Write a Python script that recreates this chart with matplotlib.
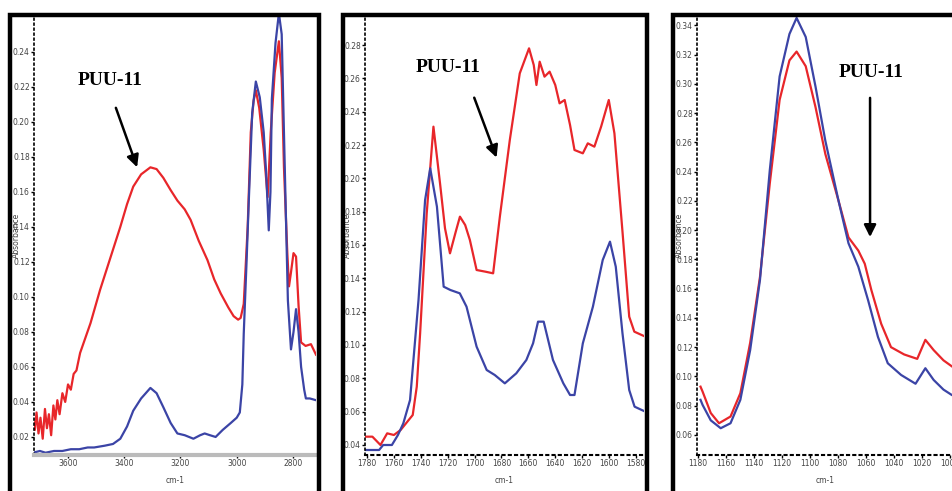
import numpy as np
import matplotlib.pyplot as plt
from matplotlib.patches import Rectangle

# panel 1: 3700-2700 cm-1
wn1_red = [3725, 3718, 3712, 3705, 3698, 3690, 3682, 3675, 3668, 3660, 3652, 3645, 3638,
           3630, 3620, 3610, 3600, 3590, 3580, 3570, 3557, 3520, 3486, 3450, 3414, 3390,
           3368, 3340, 3307, 3285, 3261, 3235, 3211, 3185, 3164, 3135, 3104, 3080, 3057,
           3030, 3011, 2995, 2986, 2975, 2961, 2950, 2940, 2932, 2920, 2904, 2890, 2879,
           2865, 2850, 2840, 2832, 2820, 2814, 2807, 2798, 2789, 2780, 2771, 2755, 2736,
           2718]
a1_red = [0.030, 0.024, 0.034, 0.022, 0.031, 0.019, 0.036, 0.025, 0.033, 0.021, 0.038,
          0.030, 0.041, 0.033, 0.045, 0.040, 0.050, 0.047, 0.056, 0.058, 0.068, 0.085,
          0.104, 0.122, 0.140, 0.153, 0.163, 0.170, 0.174, 0.173, 0.168, 0.161, 0.155,
          0.150, 0.144, 0.132, 0.121, 0.110, 0.102, 0.094, 0.089, 0.087, 0.088, 0.096,
          0.140, 0.194, 0.212, 0.218, 0.208, 0.184, 0.157, 0.194, 0.228, 0.246, 0.225,
          0.174, 0.125, 0.106, 0.114, 0.125, 0.123, 0.095, 0.074, 0.072, 0.073, 0.067]

wn1_blue = [3725, 3700, 3680, 3650, 3620, 3590, 3560, 3530, 3507, 3470, 3440, 3414,
            3390, 3368, 3340, 3307, 3285, 3261, 3235, 3211, 3185, 3154, 3130, 3114,
            3095, 3075, 3050, 3021, 3000, 2989, 2980, 2975, 2965, 2957, 2945, 2932,
            2918, 2904, 2895, 2886, 2880, 2875, 2862, 2850, 2840, 2832, 2818, 2807,
            2798, 2789, 2780, 2771, 2760, 2754, 2740, 2718]
a1_blue = [0.011, 0.012, 0.011, 0.012, 0.012, 0.013, 0.013, 0.014, 0.014, 0.015, 0.016,
           0.019, 0.026, 0.035, 0.042, 0.048, 0.045, 0.037, 0.028, 0.022, 0.021, 0.019,
           0.021, 0.022, 0.021, 0.020, 0.024, 0.028, 0.031, 0.034, 0.050, 0.079, 0.120,
           0.155, 0.205, 0.223, 0.214, 0.194, 0.170, 0.138, 0.160, 0.213, 0.245, 0.262,
           0.250, 0.194, 0.098, 0.070, 0.080, 0.093, 0.080, 0.060, 0.047, 0.042, 0.042,
           0.041]

# panel 2: 1780-1575 cm-1
wn2_red = [1781, 1776, 1770, 1765, 1760, 1755, 1750, 1746, 1743, 1740.5, 1735.6, 1730.6,
           1725.7, 1722, 1718.3, 1714, 1710.9, 1707, 1703.5, 1698.5, 1692, 1686.2, 1681.2,
           1673.8, 1666.4, 1659.5, 1656, 1654, 1651.6, 1648, 1644.2, 1640, 1636.8, 1633,
           1629, 1625.7, 1619.5, 1615.8, 1610.9, 1605.9, 1600.2, 1596, 1589.9, 1585,
           1581.2, 1573]
a2_red = [0.045, 0.045, 0.040, 0.047, 0.046, 0.049, 0.054, 0.058, 0.075, 0.107, 0.179,
          0.231, 0.197, 0.170, 0.155, 0.168, 0.177, 0.172, 0.163, 0.145, 0.144, 0.143,
          0.177, 0.223, 0.263, 0.278, 0.268, 0.256, 0.270, 0.261, 0.264, 0.256, 0.245,
          0.247, 0.232, 0.217, 0.215, 0.221, 0.219, 0.231, 0.247, 0.227, 0.167, 0.117,
          0.108, 0.105]

wn2_blue = [1781, 1771, 1768, 1761.5, 1757, 1753, 1748, 1741.7, 1736.8, 1733, 1728, 1723,
            1718, 1711, 1706, 1698.5, 1691, 1685, 1677.5, 1669, 1661.5, 1656.5, 1652.8,
            1648.6, 1641.7, 1634, 1629, 1625.7, 1619.5, 1612, 1604.7, 1599.3, 1595, 1590,
            1585, 1581, 1573]
a2_blue = [0.037, 0.037, 0.040, 0.040, 0.046, 0.053, 0.067, 0.127, 0.187, 0.206, 0.183,
           0.135, 0.133, 0.131, 0.123, 0.099, 0.085, 0.082, 0.077, 0.083, 0.091, 0.101,
           0.114, 0.114, 0.091, 0.077, 0.070, 0.070, 0.101, 0.123, 0.151, 0.162, 0.147,
           0.107, 0.073, 0.063, 0.060]

# panel 3: 1180-1000 cm-1
wn3_red = [1178, 1176.5, 1170.7, 1164.8, 1156.6, 1149.6, 1142.6, 1135.6, 1128.6, 1121.6,
           1114.6, 1109.5, 1103, 1096, 1089, 1079.6, 1072.5, 1065.5, 1060.9, 1056.2,
           1049.2, 1042.2, 1032.8, 1023.5, 1017.7, 1011.8, 1004.8, 999, 996]
a3_red = [0.093, 0.0896, 0.075, 0.068, 0.0726, 0.0885, 0.123, 0.168, 0.232, 0.289, 0.316,
          0.322, 0.312, 0.284, 0.252, 0.220, 0.195, 0.186, 0.177, 0.159, 0.136, 0.120,
          0.115, 0.112, 0.125, 0.118, 0.111, 0.107, 0.105]

wn3_blue = [1178, 1176.5, 1170.7, 1163.6, 1156.6, 1149.6, 1142.6, 1135.6, 1128.6, 1121.6,
            1114.6, 1109.5, 1103, 1096, 1089, 1079.6, 1072.5, 1065.5, 1058.5, 1051.5,
            1044.5, 1035, 1024.7, 1017.7, 1011.8, 1004.8, 999, 996]
a3_blue = [0.084, 0.0805, 0.070, 0.0646, 0.068, 0.084, 0.118, 0.166, 0.241, 0.305, 0.334,
           0.345, 0.332, 0.298, 0.261, 0.220, 0.191, 0.175, 0.152, 0.127, 0.109, 0.101,
           0.095, 0.1056, 0.0976, 0.091, 0.0874, 0.086]

RED = '#e8262a'
BLUE = '#3b44a6'

W, H = 953, 491
fig = plt.figure(figsize=(W / 100, H / 100), dpi=100)

panels = [
    dict(red=(wn1_red, a1_red), blue=(wn1_blue, a1_blue), xlim=(3721, 2718), ylim=(0.0097, 0.261),
         xt=np.arange(3600, 2700, -200), yt=np.arange(0.02, 0.25, 0.02),
         box=(34, 316), frame=(10, 319), txt=(0.27, 0.852), arr=((0.287, 0.795), (0.369, 0.648)),
         gray=True),
    dict(red=(wn2_red, a2_red), blue=(wn2_blue, a2_blue), xlim=(1781.5, 1574), ylim=(0.034, 0.298),
         xt=np.arange(1780, 1575, -20), yt=np.arange(0.04, 0.285, 0.02),
         box=(365, 644), frame=(343, 647), txt=(0.299, 0.88), arr=((0.388, 0.818), (0.475, 0.67)),
         gray=False),
    dict(red=(wn3_red, a3_red), blue=(wn3_blue, a3_blue), xlim=(1180.5, 998), ylim=(0.0463, 0.347),
         xt=np.arange(1180, 995, -20), yt=np.arange(0.06, 0.345, 0.02),
         box=(697, 953), frame=(673, 990), txt=(0.68, 0.87), arr=((0.676, 0.818), (0.676, 0.489)),
         gray=False),
]

y_bot, y_top = 455, 15
for p in panels:
    x0, x1 = p['box']
    ax = fig.add_axes([x0 / W, 1 - y_bot / H, (x1 - x0) / W, (y_bot - y_top) / H])
    ax.plot(*p['red'], color=RED, lw=1.6)
    ax.plot(*p['blue'], color=BLUE, lw=1.6)
    ax.set_xlim(*p['xlim'])
    ax.set_ylim(*p['ylim'])
    ax.set_xticks(p['xt'])
    ax.set_yticks(p['yt'])
    ax.set_xticklabels([f'{v:.0f}' for v in p['xt']])
    ax.set_yticklabels([f'{v:.2f}' for v in p['yt']])
    ax.tick_params(labelsize=5.5, labelcolor='#444444', length=2, width=1, pad=1)
    ax.patch.set_alpha(0)
    for s in ['top', 'right']:
        ax.spines[s].set_visible(False)
    ax.spines['left'].set_linestyle((0, (1, 2)))
    ax.spines['left'].set_linewidth(1.2)
    if p['gray']:
        ax.spines['bottom'].set_color('#bbbbbb')
        ax.spines['bottom'].set_linewidth(3)
        ax.axhline(p['ylim'][0], color='#333333', lw=1.2, ls=(0, (1, 9)), clip_on=False)
    else:
        ax.spines['bottom'].set_linestyle((0, (1, 2)))
        ax.spines['bottom'].set_linewidth(1.5)
    ax.set_xlabel('cm-1', fontsize=5.5, color='#444444', labelpad=6)
    ax.set_ylabel('Absorbance', fontsize=5.5, color='#444444', labelpad=-6)
    ax.annotate('PUU-11', xy=p['txt'], xycoords='axes fraction', ha='center', va='center',
                fontsize=14, fontweight='bold', family='Liberation Serif')
    ax.annotate('', xy=p['arr'][1], xytext=p['arr'][0], xycoords='axes fraction',
                arrowprops=dict(arrowstyle='-|>', color='black', lw=1.8, mutation_scale=18))

    fx0, fx1 = p['frame']
    fig.patches.append(Rectangle((fx0 / W, -0.2), (fx1 - fx0) / W, 1.2 - 15 / H,
                                 transform=fig.transFigure, fill=False, edgecolor='black',
                                 lw=3.2, clip_on=False))

fig.savefig('out.png', dpi=100)
